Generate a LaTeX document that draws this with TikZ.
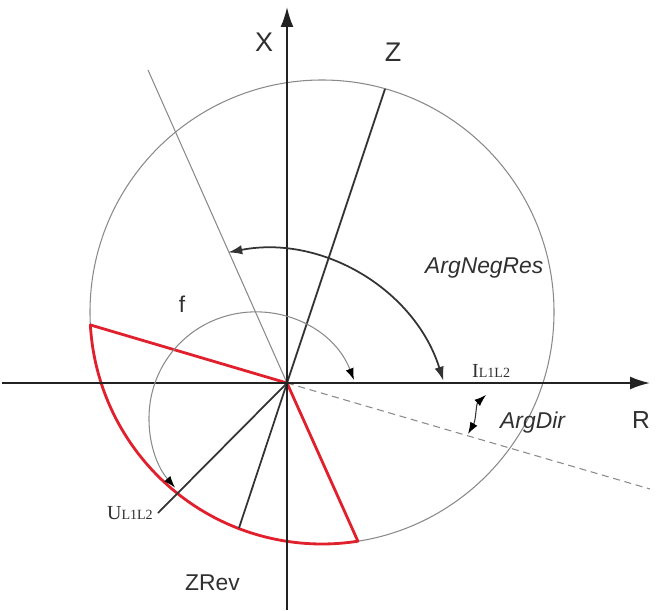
\documentclass[tikz,border=0pt]{standalone}
\usepackage{fontspec}
\setmainfont{Liberation Sans}
\newfontfamily\seriffont{Liberation Serif}
\usetikzlibrary{arrows.meta,calc}
\definecolor{axcol}{HTML}{222222}
\definecolor{lncol}{HTML}{333333}
\definecolor{grcol}{HTML}{8A8A8A}
\definecolor{rdcol}{HTML}{E0202C}
\definecolor{txcol}{HTML}{303030}
\begin{document}
\begin{tikzpicture}[x=0.03cm,y=0.03cm,
  axisline/.style={line width=1.6pt,draw=axcol,-{Latex[length=17pt,width=11pt]}},
  mainline/.style={line width=1.5pt,draw=lncol},
  thinline/.style={line width=0.9pt,draw=grcol},
  dashline/.style={line width=0.9pt,draw=grcol,dash pattern=on 6pt off 4pt},
  redline/.style={line width=2.4pt,draw=rdcol,line join=round},
  bigarc/.style={line width=1.5pt,draw=lncol,{Latex[length=12pt,width=8pt]}-{Latex[length=12pt,width=8pt]}},
  smallarc/.style={line width=0.9pt,draw=grcol,{Latex[length=10pt,width=7pt,color=black]}-{Latex[length=10pt,width=7pt,color=black]}},
  dirarc/.style={line width=0.9pt,draw=lncol,{Latex[length=10pt,width=7pt,color=black]}-{Latex[length=10pt,width=7pt,color=black]}},
  bigtxt/.style={inner sep=0pt,text=txcol,font=\fontsize{23}{23}\selectfont},
  midtxt/.style={inner sep=0pt,text=txcol,font=\fontsize{19.5}{20}\selectfont},
  itxt/.style={inner sep=0pt,text=txcol,font=\fontsize{19.5}{20}\selectfont\itshape},
  sertxt/.style={inner sep=0pt,text=txcol,font=\seriffont}
]
\useasboundingbox (0,0) rectangle (656,610);
\coordinate (O) at (287,227);
\coordinate (C) at (322,298);
\coordinate (Cf) at (255,192);
\coordinate (Cn) at (264,173);
% big circle
\draw[thinline] (C) circle (232);
% boundary lines
\coordinate (T) at (148,540);
\draw[thinline] (O) -- (T);
\coordinate (D) at (650,121);
\draw[dashline] (O) -- (D);
% red sector
\draw[redline] (O) -- ([shift={(183.2:232)}]C) arc[start angle=183.2,end angle=278.9,radius=232] -- cycle;
% Z, ZRev, U lines
\coordinate (Zend) at (385,521);
\coordinate (ZRend) at (239,82);
\coordinate (Uend) at (158,97);
\draw[mainline] (O) -- (Zend);
\draw[mainline] (O) -- (ZRend);
\draw[mainline] (O) -- (Uend);
% axes
\coordinate (Rs) at (2,227);
\coordinate (Re) at (650,227);
\coordinate (Xs) at (287,0);
\coordinate (Xe) at (287,603);
\draw[axisline] (Rs) -- (Re);
\draw[axisline] (Xs) -- (Xe);
% arcs
\draw[smallarc] ([shift={(21:106)}]Cf) arc[start angle=21,end angle=221,radius=106];
\draw[bigarc] ([shift={(17.4:188)}]Cn) arc[start angle=17.4,end angle=101,radius=188];
\coordinate (Da) at (468,176);
\coordinate (Db) at (486,215);
\draw[dirarc] (Da) .. controls (476,190) and (476,206) .. (Db);
% labels
\node[bigtxt,anchor=base] (lX) at (264,558) {X};
\node[bigtxt,anchor=base] (lZ) at (393,548) {Z};
\node[midtxt,anchor=base,font=\fontsize{21}{21}\selectfont] (lR) at (641,182) {R};
\node[midtxt,anchor=base] (lf) at (182,298) {f};
\node[itxt,anchor=base west] (lNeg) at (425,337) {ArgNegRes};
\node[itxt,anchor=base west] (lDir) at (500,182) {ArgDir};
\node[midtxt,anchor=base east] (lZR) at (240,20) {ZRev};
\node[sertxt,anchor=base west] (lI) at (472,233) {{\fontsize{17}{17}\selectfont I}{\fontsize{12}{12}\selectfont L1L2}};
\node[sertxt,anchor=base east] (lU) at (153,91) {{\fontsize{17}{17}\selectfont U}{\fontsize{12}{12}\selectfont L1L2}};
\end{tikzpicture}
\end{document}
